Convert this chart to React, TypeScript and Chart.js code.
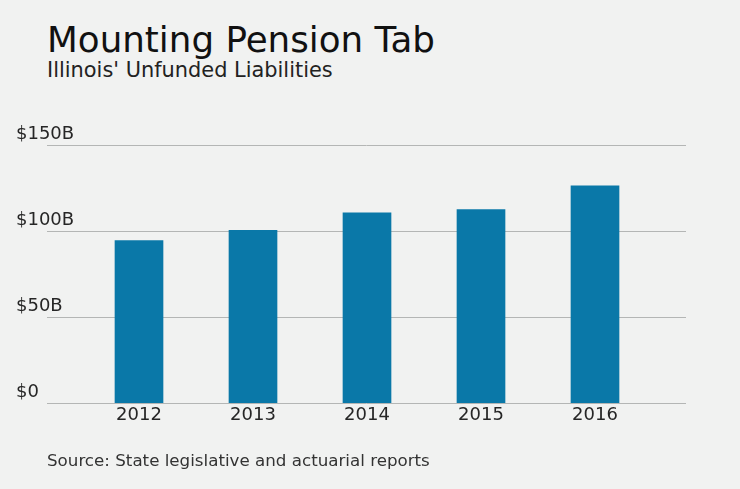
import React, { useEffect, useRef } from "react";
import { Chart, registerables } from "chart.js";

Chart.register(...registerables);

const categories: string[] = ["2012", "2013", "2014", "2015", "2016"];
const liabilities: number[] = [94.4, 100.4, 110.6, 112.4, 126.3];
const yTicks: number[] = [0, 50, 100, 150];
const titleText = "Mounting Pension Tab";
const subtitleText = "Illinois' Unfunded Liabilities";
const sourceText = "Source: State legislative and actuarial reports";

const FONT = "'DejaVu Sans', Verdana, sans-serif";
const BG = "#f1f2f1";

const gridPlugin = {
  id: "wideGrid",
  beforeDatasetsDraw(chart: any) {
    const y = chart.scales.y;
    const ctx = chart.ctx;
    ctx.save();
    ctx.strokeStyle = "#b4b6b5";
    ctx.lineWidth = 1;
    yTicks.forEach((v) => {
      const py = Math.round(y.getPixelForValue(v)) + 0.5;
      ctx.beginPath();
      ctx.moveTo(47, py);
      ctx.lineTo(686, py);
      ctx.stroke();
    });
    ctx.restore();
  },
};

export default function App() {
  const ref = useRef<HTMLCanvasElement | null>(null);

  useEffect(() => {
    document.body.style.margin = "0";
    document.body.style.background = BG;
    if (!ref.current) return;
    const chart = new Chart(ref.current, {
      type: "bar",
      data: {
        labels: categories,
        datasets: [
          {
            data: liabilities,
            backgroundColor: "#0a78a8",
            borderWidth: 0,
            barThickness: 48,
          },
        ],
      },
      options: {
        animation: false,
        responsive: false,
        devicePixelRatio: 1,
        layout: { padding: { left: 16, right: 88, top: 145, bottom: 46 } },
        plugins: {
          legend: { display: false },
          tooltip: { enabled: false },
          title: { display: false },
        },
        scales: {
          x: {
            grid: { display: false },
            border: { display: false },
            ticks: {
              color: "#262626",
              font: { family: FONT, size: 18 },
              padding: -6,
            },
            afterFit: (s: any) => {
              s.height = 40;
            },
          },
          y: {
            min: 0,
            max: 150,
            afterBuildTicks: (s: any) => {
              s.ticks = yTicks.map((v) => ({ value: v }));
            },
            grid: { display: false },
            border: { display: false },
            ticks: {
              color: "#262626",
              font: { family: FONT, size: 18 },
              crossAlign: "far",
              labelOffset: -11,
              padding: 0,
              callback: (v: any) => (Number(v) === 0 ? "$0" : "$" + v + "B"),
            },
            afterFit: (s: any) => {
              s.width = 66;
            },
          },
        },
      },
      plugins: [gridPlugin],
    });
    return () => chart.destroy();
  }, []);

  return (
    <div
      style={{
        position: "relative",
        width: 740,
        height: 489,
        background: BG,
        fontFamily: FONT,
        overflow: "hidden",
      }}
    >
      <div
        style={{
          position: "absolute",
          left: 47,
          top: 22,
          fontSize: 35.7,
          lineHeight: "36px",
          color: "#111",
          whiteSpace: "nowrap",
        }}
      >
        {titleText}
      </div>
      <div
        style={{
          position: "absolute",
          left: 47,
          top: 60,
          fontSize: 20.9,
          lineHeight: "21px",
          color: "#222",
          whiteSpace: "nowrap",
        }}
      >
        {subtitleText}
      </div>
      <canvas
        ref={ref}
        width={740}
        height={489}
        style={{ position: "absolute", left: 0, top: 0, width: 740, height: 489 }}
      />
      <div
        style={{
          position: "absolute",
          left: 47,
          top: 452,
          fontSize: 16.7,
          lineHeight: "17px",
          color: "#333",
          whiteSpace: "nowrap",
        }}
      >
        {sourceText}
      </div>
    </div>
  );
}
